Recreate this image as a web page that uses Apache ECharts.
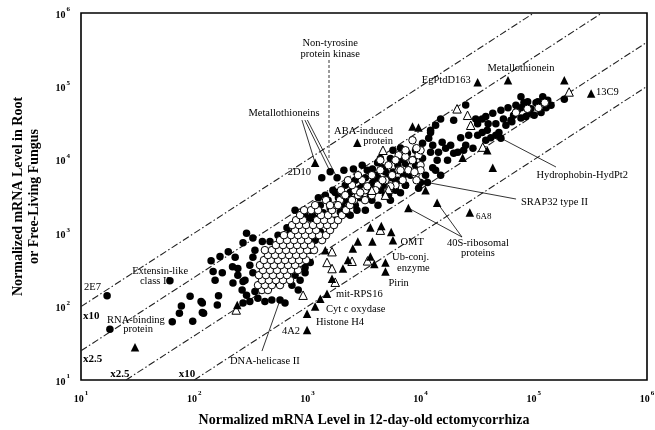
<!DOCTYPE html>
<html>
<head>
<meta charset="utf-8">
<script src="https://cdn.jsdelivr.net/npm/echarts@6/dist/echarts.min.js"></script>
<style>
  html, body { margin: 0; padding: 0; background: #fff; }
  #chart { width: 655px; height: 430px; }
</style>
</head>
<body>
<div id="chart"></div>
<script>
// Fold-change guide lines (root / ectomycorrhiza ratio)
const foldRatios = [10, 2.5, 0.4, 0.1];
const axisMin = 10, axisMax = 1e6;

// [ectomycorrhiza level, root / free-living fungus level]
const filledCircles = [
  [17,140],[18,49],[61,225],[92,138],[118,112],[77,102],[74,81],[64,62],[97,63],[121,81],[160,105],[164,140],
  [141,420],[147,300],[153,229],[200,560],[177,290],[218,350],[169,480],[230,470],[220,210],[270,220],[265,168],
  [290,143],[344,160],[365,130],[421,117],[485,123],[573,123],[634,112],[270,112],[310,117],[281,229],[330,290],
  [243,268],[310,367],[118,83],[115,117],
  [243,330],[330,470],[344,588],[290,1000],[270,740],[330,860],[400,770],[467,770],[550,940],[660,1190],
  [778,2060],[1060,1600],[1170,1600],[1250,3050],[862,1400],[954,1760],[634,804],[703,1000],
  [1340,5680],[1590,6900],[1830,5680],[2100,7210],[2550,7500],
  [4410,10400],[5410,10400],[4170,9100],[4600,7800],[3750,7500],[3050,8430],[3380,7210],[6640,14500],
  [7650,12300],[9020,13490],[8650,10100],[6640,10100],[12250,25250],[5700,13490],
  [25030,56000],[15030,36000],[13570,29550],[19600,34540],[12250,23500],[30700,36000],[35000,36000],
  [31900,31000],[37650,39000],[39500,31000],[43400,43000],[51200,47250],[46200,31000],[53900,36000],
  [59200,51000],[62800,34540],[66300,40400],[71600,47250],[77000,51000],[81800,60000],[88300,62000],
  [94400,49500],[104600,60000],[77000,37000],[85300,39000],[91200,43000],[100800,40400],[108600,62000],
  [120000,72000],[132800,64640],[142000,55300],[128300,51000],[116000,44000],[186000,67000],[64000,33000],
  [31900,21600],[35000,23500],[38800,25250],[41700,20000],[46200,21600],[49200,23500],[51200,19700],
  [25030,15790],[29000,14400],[24000,13490],[15500,17300],[18430,15790],[16640,14400],[19600,12300],
  [21300,12700],[17300,9860],[11800,19700],[10400,16800],[12800,15790],[12250,12700],[14400,12700],
  [14000,9860],[12800,7800],[15030,6170],[13570,7210],[11060,6170],[9990,4900],[11500,4900],[9600,4100],
  [7350,4510],[8140,6170],[6000,5270],[6640,3560],[5200,3300],[9020,8430],[10400,10500],[77000,72000],
  [69500,55300],[56700,29550],[26600,21600],[37650,18460],[22600,20000],
  [954,340],[954,290],[862,229],[730,196],[830,168],
  [1440,3300],[1680,3850],[1880,3050],[2160,4510],[2390,3600],[2650,5270],[2930,4100],[3250,5700],
  [3600,4510],[3990,6170],[2160,2820],[2650,2410],[2930,3050],[4890,6800],[5600,5700],[6300,8430],
  [7350,8900],[3600,3300],[4410,3850],[3250,2060],[4200,2410],[5410,2820],[1950,1950],[1590,2200],
  [1300,2410],[1110,1760],[2390,1760],[1760,1505],[1380,1900],
  [1170,804],[1300,1050],[1060,588],[862,470],[703,367],[600,300],[778,268],[517,215],[440,180],
  [400,229],[1060,400],
  [1522,2820],[1760,3580],[2022,2410],[2283,3300],[2530,4120],[2797,3300],[3100,4510],[3450,3850],
  [3790,4900],[4180,5700],[4700,4510],[5200,5700],[5700,6800],[6400,5270],[7050,6170],[7800,7210],
  [2740,2060],[2240,1860],[3710,2820],[4890,3300],[6000,3850],[7350,4510]
];

const openCircles = [
  [397,168],[448,168],
  [366,196],[421,196],[486,196],[573,196],
  [397,229],[457,229],[527,229],[609,229],[703,229],
  [373,268],[430,268],[496,268],[573,268],[660,268],
  [405,314],[467,314],[538,314],[621,314],[717,314],[827,314],
  [381,367],[439,367],[506,367],[584,367],[674,367],[778,367],
  [413,430],[476,430],[549,430],[634,430],[732,430],[844,430],[973,430],
  [448,503],[517,503],[596,503],[688,503],[794,503],[916,503],
  [421,588],[486,588],[561,588],[647,588],[747,588],[862,588],[993,588],[1145,588],
  [527,688],[609,688],[703,688],[810,688],[935,688],[1078,688],
  [573,804],[660,804],[762,804],[879,804],[1014,804],[1347,804],
  [621,940],[717,940],[827,940],[954,940],[1100,940],[1268,940],[1461,940],
  [778,1100],[897,1100],[1035,1100],[1193,1100],[1585,1100],
  [732,1290],[844,1290],[973,1290],[1122,1290],[1294,1290],[1491,1290],[1718,1290],
  [794,1505],[916,1505],[1217,1505],[1403,1505],[1617,1505],[1864,1505],
  [862,1760],[1320,1760],[1522,1760],[2022,1760],
  [935,2060],[1078,2060],[1242,2060],[1650,2060],[2192,2060],
  [1170,2410],[1790,2410],[2378,2410],
  [1461,2820],[1941,2820],[2579,2820],[3230,2820],
  [2105,3300],[2797,3300],[3710,3300],
  [1981,3850],[2632,3850],[3230,3850],[5200,3850],
  [2476,4510],[4180,4510],[6000,4510],
  [2283,5270],[3034,5270],[4890,5270],[6940,5270],
  [2797,6170],[3710,6170],[5600,6170],[9020,6170],
  [4410,7210],[6400,7210],[7800,7210],
  [5200,8430],[9990,8430],
  [4410,9860],[8140,9860],
  [6400,11540],[9580,11540],
  [9990,13490],
  [8480,18460],[9200,14400],[8480,9860],[9990,7210],[8830,6800],[9200,5270],
  [69500,44000],[88000,49500],[110000,51000],[125000,60000],
  [1585,2410],[1864,2410],[2160,3300],[2476,2820],[2930,3580],[3380,4350],[3990,3850],[4600,5270],
  [5410,4350],[6640,7210],[7350,11000],[6000,9860],[7350,13490]
];

const filledTriangles = [
  [30,28],[1170,9100],[2760,17100],[8480,28500],[9580,27500],[31900,114000],[59200,121000],
  [186000,121000],[321000,80000],[38800,13490],[43400,7800],[23500,10700],[11060,3850],[27200,1920],
  [14000,2600],[7800,2200],[5700,804],[3600,1200],[4500,1250],[5500,1040],[2790,770],[3750,770],
  [2520,620],[2280,430],[3600,480],[3900,380],[4890,400],[4890,300],[1490,150],[1300,128],[1170,100],
  [993,80],[993,48],[2060,330],[240,105],[1650,240],[1440,588]
];

const openTriangles = [
  [4650,13490],[21000,49500],[26000,40400],[27700,29550],[35400,14900],[205000,84000],[1650,560],
  [1490,400],[1650,330],[1760,215],[2480,415],[3400,420],[235,90],[4410,1100],[916,143],[5200,3950],
  [3710,3850],[4890,3300]
];

// Gene labels placed at data coordinates: [text, x, y, align]
const geneLabels = [
  ['Non-tyrosine', 1590, 390000, 'center'],
  ['protein kinase', 1590, 276000, 'center'],
  ['Metallothioneins', 621, 43400, 'center'],
  ['2D10', 1077, 6820, 'right'],
  ['ABA-induced', 5700, 24700, 'right'],
  ['protein', 5700, 18000, 'right'],
  ['EgPtdD163', 27730, 121000, 'right'],
  ['Metallothionein', 77000, 178000, 'center'],
  ['13C9', 354000, 84000, 'left'],
  ['Hydrophobin-HydPt2', 679000, 6210, 'right'],
  ['SRAP32 type II', 77000, 2660, 'left'],
  ['40S-ribosomal', 32100, 735, 'center'],
  ['proteins', 32100, 537, 'center'],
  ['OMT', 6640, 759, 'left'],
  ['Ub-conj.', 5600, 474, 'left'],
  ['enzyme', 6200, 336, 'left'],
  ['Pirin', 5200, 210, 'left'],
  ['mit-RPS16', 1790, 149, 'left'],
  ['Cyt c oxydase', 1460, 92.7, 'left'],
  ['Histone H4', 1190, 61.6, 'left'],
  ['4A2', 862, 46.6, 'right'],
  ['DNA-helicase II', 421, 18.2, 'center'],
  ['2E7', 15.0, 185, 'right'],
  ['Extensin-like', 50, 305, 'center'],
  ['class II', 45, 223, 'center'],
  ['RNA-binding', 30.6, 65.6, 'center'],
  ['protein', 31.9, 49.5, 'center']
];
const smallLabels = [['6A8', 30800, 1665, 'left']];
const foldLabels = [
  ['x10', 10.4, 74.5, 'left'],
  ['x2.5', 10.4, 19.3, 'left'],
  ['x2.5', 22.1, 12.0, 'center'],
  ['x10', 86.3, 12.0, 'center']
];

// Leader lines: [from, to] in data coordinates
const leaderLines = [
  [[895, 34800], [1170, 9100]],
  [[950, 34800], [1590, 6900]],
  [[1000, 34800], [1830, 5680]],
  [[51200, 19700], [157000, 7980]],
  [[11500, 4900], [69700, 2920]],
  [[23200, 887], [7800, 2200]],
  [[23200, 887], [14000, 2600]],
  [[573, 123], [397, 24.8]]
];
const kinaseLine = [[1552, 229000], [1552, 10500]];

const serif = 'Liberation Serif';

const foldSeries = foldRatios.map(r => {
  const x0 = Math.max(axisMin, axisMin / r);
  const x1 = Math.min(axisMax, axisMax / r);
  return {
    type: 'line', data: [[x0, r * x0], [x1, r * x1]], symbol: 'none', silent: true, z: 1,
    lineStyle: { color: '#222', width: 1.1, type: [7, 2.5, 1.5, 2.5] }
  };
});

function pointSeries(data, symbol, size, fill) {
  return {
    type: 'scatter', data, symbol, symbolSize: size, z: 3,
    itemStyle: { color: fill, borderColor: '#000', borderWidth: fill === '#000' ? 0 : 1, opacity: 1 }
  };
}

const tickLabel = {
  formatter: v => '{m|10}{e|' + Math.round(Math.log10(v)) + '}',
  rich: {
    m: { fontFamily: serif, fontWeight: 'bold', fontSize: 10, color: '#000', lineHeight: 14, verticalAlign: 'bottom' },
    e: { fontFamily: serif, fontWeight: 'bold', fontSize: 7, color: '#000', verticalAlign: 'top', padding: [0, 0, 0, 1] }
  }
};

const chart = echarts.init(document.getElementById('chart'), null, { renderer: 'canvas' });
chart.setOption({
  animation: false,
  backgroundColor: '#fff',
  grid: {
    left: 81, top: 13, width: 566, height: 367, containLabel: false, outerBoundsMode: 'none',
    show: true, borderColor: '#000', borderWidth: 1.6, backgroundColor: 'transparent'
  },
  xAxis: {
    type: 'log', logBase: 10, min: axisMin, max: axisMax,
    name: 'Normalized mRNA Level in 12-day-old ectomycorrhiza',
    nameLocation: 'middle', nameGap: 33,
    nameTextStyle: { fontFamily: serif, fontWeight: 'bold', fontSize: 14, color: '#000' },
    axisLine: { show: false }, axisTick: { show: false }, splitLine: { show: false }, minorTick: { show: false },
    axisLabel: Object.assign({ margin: 10 }, tickLabel)
  },
  yAxis: {
    type: 'log', logBase: 10, min: axisMin, max: axisMax,
    name: 'Normalized mRNA Level in Root\nor Free-Living Fungus',
    nameLocation: 'middle', nameGap: 39, nameRotate: 90,
    nameTextStyle: { fontFamily: serif, fontWeight: 'bold', fontSize: 14, color: '#000', lineHeight: 16 },
    axisLine: { show: false }, axisTick: { show: false }, splitLine: { show: false },
    axisLabel: Object.assign({ margin: 11 }, tickLabel)
  },
  series: foldSeries.concat([
    pointSeries(filledCircles, 'circle', 7.5, '#000'),
    pointSeries(openCircles, 'circle', 7.5, '#fff'),
    pointSeries(openTriangles, 'triangle', 8.5, '#fff'),
    pointSeries(filledTriangles, 'triangle', 8.5, '#000')
  ])
});

const px = p => chart.convertToPixel({ gridIndex: 0 }, p);
const graphics = [];
function addText(list, font) {
  list.forEach(([text, x, y, align]) => {
    const p = px([x, y]);
    graphics.push({
      type: 'text', z: 10, x: p[0], y: p[1],
      style: { text, font, fill: '#000', align, verticalAlign: 'middle', textAlign: align, textVerticalAlign: 'middle' }
    });
  });
}
addText(geneLabels, '10.5px "' + serif + '"');
addText(smallLabels, '9px "' + serif + '"');
addText(foldLabels, 'bold 11px "' + serif + '"');
leaderLines.forEach(([a, b]) => {
  const p = px(a), q = px(b);
  graphics.push({ type: 'line', z: 2, shape: { x1: p[0], y1: p[1], x2: q[0], y2: q[1] }, style: { stroke: '#000', lineWidth: 0.8 } });
});
{
  const p = px(kinaseLine[0]), q = px(kinaseLine[1]);
  graphics.push({ type: 'line', z: 2, shape: { x1: p[0], y1: p[1], x2: q[0], y2: q[1] }, style: { stroke: '#000', lineWidth: 0.8, lineDash: [3, 2] } });
}
chart.setOption({ graphic: graphics });
</script>
</body>
</html>
